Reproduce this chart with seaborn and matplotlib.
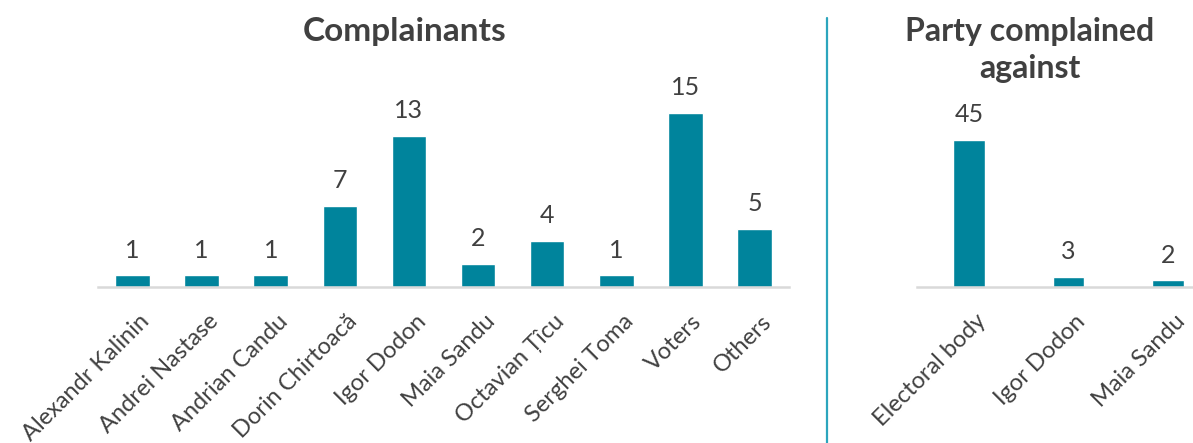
import matplotlib
matplotlib.use("Agg")
import matplotlib.pyplot as plt
from matplotlib.lines import Line2D
from matplotlib.transforms import ScaledTranslation
import seaborn as sns
import pandas as pd

# Complaints by complainant
complainants = ["Alexandr Kalinin", "Andrei Nastase", "Andrian Candu", "Dorin Chirtoacă",
                "Igor Dodon", "Maia Sandu", "Octavian Țîcu", "Serghei Toma", "Voters", "Others"]
complainant_counts = [1, 1, 1, 7, 13, 2, 4, 1, 15, 5]

# Complaints by party complained against
parties = ["Electoral body", "Igor Dodon", "Maia Sandu"]
party_counts = [45, 3, 2]

BAR = "#00849C"
TEXT = "#404040"
AXIS = "#D9D9D9"
SEP = "#2CA5BD"

sns.set_theme(style="white")
plt.rcParams["font.family"] = ["Lato", "DejaVu Sans"]

W, H = 1193, 443
fig = plt.figure(figsize=(W / 100, H / 100), dpi=100)


def px_axes(x0, x1, y_base, height_px):
    return fig.add_axes([x0 / W, (H - y_base) / H, (x1 - x0) / W, height_px / H])


def style(ax, labels):
    for s in ["top", "right", "left"]:
        ax.spines[s].set_visible(False)
    ax.spines["bottom"].set_color(AXIS)
    ax.spines["bottom"].set_linewidth(1.8)
    ax.set_yticks([])
    ax.set_xlabel("")
    ax.set_ylabel("")
    ax.tick_params(axis="x", length=0, pad=17)
    ax.set_xticks(range(len(labels)))
    ax.set_xticklabels(labels, rotation=45, ha="right", rotation_mode="anchor",
                       fontsize=17, color=TEXT)
    shift = ScaledTranslation(6 / 100, 0, fig.dpi_scale_trans)
    for lab in ax.get_xticklabels():
        lab.set_transform(lab.get_transform() + shift)


def label_bars(ax, values):
    for i, v in enumerate(values):
        ax.annotate(f"{v}", (i, v), xytext=(0, 10), textcoords="offset points",
                    ha="center", va="bottom", fontsize=18, color=TEXT)


# Left panel
ax1 = px_axes(98, 789, 287, 191.4)
df1 = pd.DataFrame({"who": complainants, "n": complainant_counts})
sns.barplot(data=df1, x="who", y="n", color=BAR, width=0.5, saturation=1, ax=ax1)
ax1.set_xlim(-0.5, 9.5)
ax1.set_ylim(0, 16.5)
style(ax1, complainants)
label_bars(ax1, complainant_counts)

# Right panel
ax2 = px_axes(917, 1193, 287, 163.5)
df2 = pd.DataFrame({"who": parties, "n": party_counts})
sns.barplot(data=df2, x="who", y="n", color=BAR, width=0.32, saturation=1, ax=ax2)
ax2.set_xlim(-0.52, 2.25)
ax2.set_ylim(0, 50)
style(ax2, parties)
label_bars(ax2, party_counts)

# Titles
fig.text(405 / W, 1 - 31 / H, "Complainants", ha="center", va="center",
         fontsize=24, fontweight="bold", color=TEXT)
fig.text(1030 / W, 1 - 50 / H, "Party complained\nagainst", ha="center", va="center",
         fontsize=23, fontweight="bold", color=TEXT, linespacing=1.35)

# Panel separator
fig.add_artist(Line2D([827 / W, 827 / W], [0, 1 - 18 / H], transform=fig.transFigure,
                      color=SEP, linewidth=1.6))

fig.savefig("out.png", dpi=100)
